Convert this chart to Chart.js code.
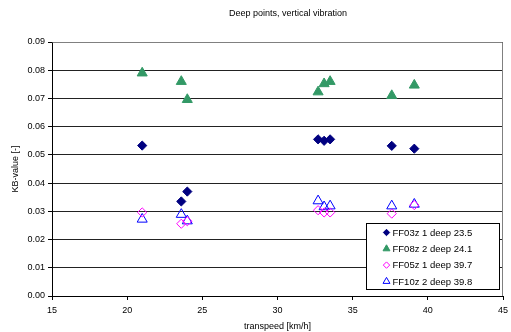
<!DOCTYPE html>
<html>
<head>
<meta charset="utf-8">
<script src="https://cdn.jsdelivr.net/npm/chart.js@4/dist/chart.umd.min.js"></script>
<style>
  html, body { margin: 0; padding: 0; background: #fff; }
  #wrap { width: 511px; height: 332px; }
</style>
</head>
<body>
<div id="wrap"><canvas id="kb"></canvas></div>
<script>
    // train speed for every measurement [km/h]
    var speeds = [21.0, 23.6, 24.0, 32.7, 33.1, 33.5, 37.6, 39.1];
    // KB-values per sensor
    var ff03Kb = [0.0533, 0.0335, 0.0370, 0.0555, 0.0550, 0.0555, 0.0532, 0.0522];
    var ff08Kb = [0.0790, 0.0760, 0.0696, 0.0723, 0.0752, 0.0760, 0.0710, 0.0747];
    var ff05Kb = [0.0296, 0.0256, 0.0265, 0.0304, 0.0296, 0.0296, 0.0292, 0.0322];
    var ff10Kb = [0.0272, 0.0289, 0.0266, 0.0337, 0.0316, 0.0319, 0.0319, 0.0325];
    var seriesNames = ['FF03z 1 deep 23.5', 'FF08z 2 deep 24.1', 'FF05z 1 deep 39.7', 'FF10z 2 deep 39.8'];
    var titleText = 'Deep points, vertical vibration';

    var FONT = '"Liberation Sans", Arial, sans-serif';

    function points(values){
        var out = [];
        values.forEach(function(v, i){
            out.push({x: speeds[i], y: v});
        });
        return out;
    }

    // frame, title and the boxed legend in the lower right corner
    var extras = {
        id: 'extras',
        afterDraw: function(chart){
            var ctx = chart.ctx;
            var a = chart.chartArea;
            ctx.save();
            ctx.strokeStyle = '#808080';
            ctx.lineWidth = 1;
            ctx.beginPath();
            ctx.moveTo(Math.round(a.left) + 0.5, Math.round(a.top) + 0.5);
            ctx.lineTo(Math.round(a.right) - 0.5, Math.round(a.top) + 0.5);
            ctx.lineTo(Math.round(a.right) - 0.5, Math.round(a.bottom));
            ctx.stroke();

            ctx.fillStyle = '#000';
            ctx.font = '9px ' + FONT;
            ctx.textAlign = 'center';
            ctx.textBaseline = 'middle';
            ctx.fillText(titleText, 288, 14);

            var bx = 366.5, by = 223.5, bw = 133, bh = 66;
            ctx.fillStyle = '#fff';
            ctx.fillRect(bx, by, bw, bh);
            ctx.strokeStyle = '#000';
            ctx.strokeRect(bx, by, bw, bh);
            ctx.textAlign = 'left';
            ctx.font = '9.5px ' + FONT;
            chart.data.datasets.forEach(function(ds, i){
                var yy = by + 9 + i * 16.3;
                ctx.fillStyle = ds.backgroundColor;
                ctx.strokeStyle = ds.borderColor;
                ctx.lineWidth = 1;
                Chart.helpers.drawPoint(ctx, {
                    pointStyle: ds.pointStyle,
                    radius: ds.pointStyle === 'triangle' ? 4 : 3.2,
                    borderWidth: 1
                }, bx + 20, yy);
                ctx.fillStyle = '#000';
                ctx.fillText(ds.label, bx + 26, yy + 0.5);
            });
            ctx.restore();
        }
    };

    new Chart(document.getElementById('kb'), {
        type: 'scatter',
        data: {
            datasets: [
                {
                    label: seriesNames[0],
                    data: points(ff03Kb),
                    pointStyle: 'rectRot',
                    pointRadius: 4.6,
                    backgroundColor: '#000080',
                    borderColor: '#000080',
                    borderWidth: 1
                },
                {
                    label: seriesNames[1],
                    data: points(ff08Kb),
                    pointStyle: 'triangle',
                    pointRadius: 5.8,
                    backgroundColor: '#339966',
                    borderColor: '#339966',
                    borderWidth: 1
                },
                {
                    label: seriesNames[2],
                    data: points(ff05Kb),
                    pointStyle: 'rectRot',
                    pointRadius: 4.6,
                    backgroundColor: 'rgba(255,255,255,0)',
                    borderColor: '#ff00ff',
                    borderWidth: 1
                },
                {
                    label: seriesNames[3],
                    data: points(ff10Kb),
                    pointStyle: 'triangle',
                    pointRadius: 5.8,
                    backgroundColor: 'rgba(255,255,255,0)',
                    borderColor: '#0000ff',
                    borderWidth: 1
                }
            ]
        },
        options: {
            responsive: true,
            maintainAspectRatio: false,
            animation: false,
            layout: { padding: { top: 42, right: 8, left: 0, bottom: 0 } },
            plugins: {
                legend: { display: false },
                title: { display: false },
                tooltip: { enabled: false }
            },
            scales: {
                x: {
                    type: 'linear',
                    min: 15,
                    max: 45,
                    afterFit: function(scale){
                        scale.height = 36;
                        // end labels may hang over the frame
                        scale.paddingLeft = 0;
                        scale.paddingRight = 0;
                    },
                    ticks: {
                        stepSize: 5,
                        color: '#000',
                        padding: 5,
                        maxRotation: 0,
                        font: { family: FONT, size: 9 }
                    },
                    grid: {
                        drawOnChartArea: false,
                        drawTicks: true,
                        tickLength: 4,
                        color: '#000'
                    },
                    border: { color: '#000', width: 1 },
                    title: {
                        display: true,
                        text: 'transpeed [km/h]',
                        color: '#000',
                        font: { family: FONT, size: 9 },
                        padding: { top: 0, bottom: 0 }
                    }
                },
                y: {
                    min: 0,
                    max: 0.09,
                    afterFit: function(scale){ scale.width = 52; },
                    ticks: {
                        stepSize: 0.01,
                        color: '#000',
                        padding: 3,
                        font: { family: FONT, size: 9 },
                        callback: function(v){ return v.toFixed(2); }
                    },
                    grid: {
                        color: '#222',
                        lineWidth: 1,
                        drawTicks: true,
                        tickLength: 4,
                        tickColor: '#000'
                    },
                    border: { color: '#000', width: 1 },
                    title: {
                        display: true,
                        text: 'KB-value [-]',
                        color: '#000',
                        font: { family: FONT, size: 9 },
                        padding: { top: 10, bottom: 0 }
                    }
                }
            }
        },
        plugins: [extras]
    });
</script>
</body>
</html>
